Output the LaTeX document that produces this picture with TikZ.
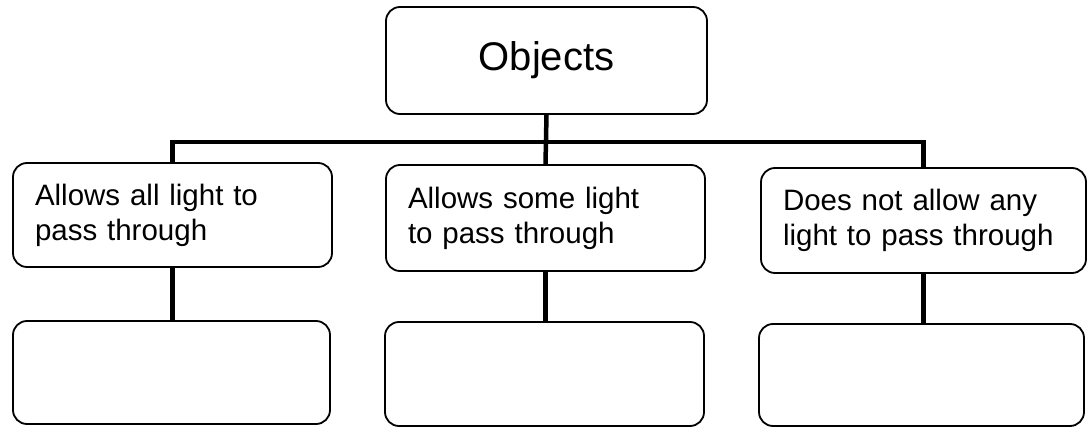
\documentclass[tikz,border=0pt]{standalone}
\usepackage{fontspec}
\setmainfont{Liberation Sans}
\begin{document}
\begin{tikzpicture}[x=1pt,y=-1pt,
  box/.style={draw=black,line width=1.8pt,rounded corners=14pt,inner xsep=22pt,inner ysep=0pt,align=left,
    font=\fontsize{29.5}{35}\selectfont},
  conn/.style={draw=black,line width=4.5pt}]
\useasboundingbox (0,0) rectangle (1088,428);
\node[box,align=center,text width=277pt,minimum height=107pt,font=\fontsize{40}{46}\selectfont] (top) at (546.5,60.5) {Objects};
\node[box,text width=275pt,minimum height=104pt] (ml) at (172.5,215) {Allows all light to\\pass through};
\node[box,text width=275pt,minimum height=106pt] (mm) at (545.5,218) {Allows some light\\to pass through};
\node[box,text width=281pt,minimum height=105pt] (mr) at (923.5,220.5) {Does not allow any\\light to pass through};
\node[box,text width=273pt,minimum height=103pt] (bl) at (171.5,372.5) {};
\node[box,text width=275pt,minimum height=104pt] (bm) at (544.5,374) {};
\node[box,text width=281pt,minimum height=102pt] (br) at (921.5,375) {};
\coordinate (bar) at (546.5,142);
\draw[conn] (ml.north) |- (bar) -| (mr.north);
\draw[conn] (top.south) -- (mm.north);
\draw[conn] (ml.south) -- (ml.south |- bl.north);
\draw[conn] (mm.south) -- (mm.south |- bm.north);
\draw[conn] (mr.south) -- (mr.south |- br.north);
\end{tikzpicture}
\end{document}
